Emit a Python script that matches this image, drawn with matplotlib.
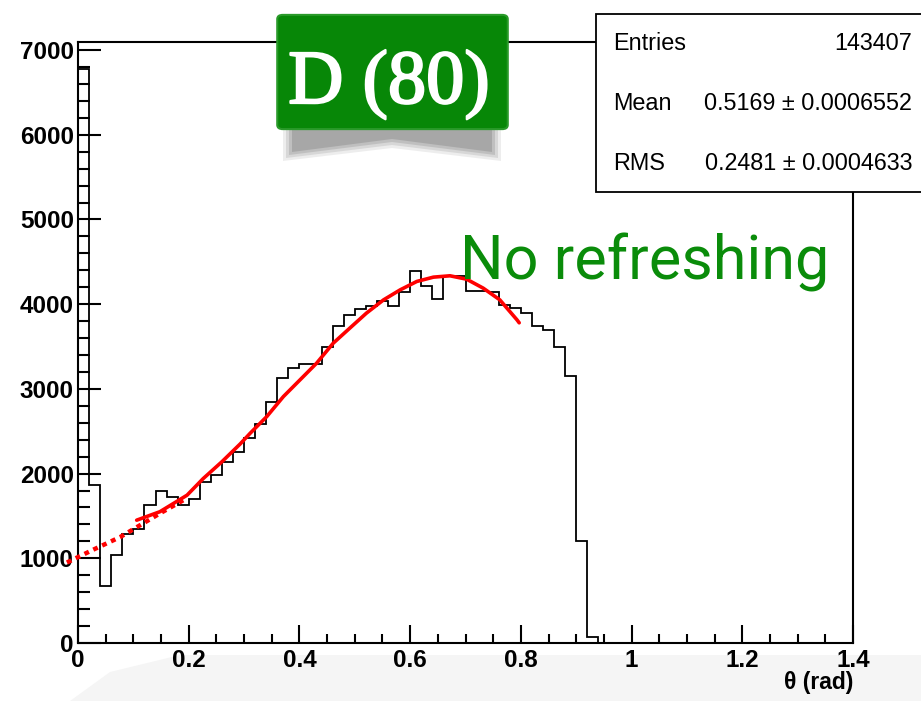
import numpy as np
import matplotlib
matplotlib.use('Agg')
import matplotlib.pyplot as plt
import matplotlib.patheffects as pe
from matplotlib.patches import Rectangle, FancyBboxPatch, Polygon

# histogram: theta (rad), 70 bins of 0.02 from 0 to 1.4
bin_edges = np.linspace(0, 1.4, 71)
counts = [6780, 1870, 670, 1040, 1290, 1345, 1625, 1795, 1720, 1630,
          1700, 1905, 1985, 2140, 2260, 2420, 2580, 2840, 3130, 3250,
          3290, 3290, 3490, 3740, 3870, 3940, 3980, 4040, 3980, 4140,
          4390, 4220, 4060, 4330, 4330, 4160, 4150, 4140, 3990, 3950,
          3900, 3740, 3700, 3490, 3150, 1200, 75] + [0] * 23

# hand drawn fit (solid) and its extrapolation (dotted)
fit_x = [0.106, 0.148, 0.197, 0.226, 0.260, 0.293, 0.311, 0.341, 0.371, 0.401,
         0.431, 0.461, 0.491, 0.521, 0.552, 0.582, 0.612, 0.642, 0.672, 0.702,
         0.732, 0.762, 0.793, 0.797]
fit_y = [1450, 1550, 1745, 1940, 2140, 2350, 2476, 2673, 2909, 3106,
         3303, 3539, 3717, 3894, 4051, 4169, 4268, 4319, 4335, 4295,
         4189, 4051, 3815, 3780]
ext_x = [-0.02, 0.027, 0.076, 0.148, 0.197]
ext_y = [950, 1100, 1250, 1530, 1710]

stats_names = ['Entries', 'Mean', 'RMS']
stats_values = ['143407', '0.5169 \u00b1 0.0006552', '0.2481 \u00b1 0.0004633']

W, H = 921, 701
def px(x):
    return x / W
def py(y):
    return 1 - y / H

fig = plt.figure(figsize=(9.21, 7.01), dpi=100)

# faint slide background at the bottom
fig.patches.append(Polygon([[px(70), 0], [px(110), py(672)], [px(180), py(655)],
                            [1, py(655)], [1, 0]], closed=True,
                           transform=fig.transFigure, facecolor='#f5f5f5',
                           edgecolor='none', zorder=-5))

ax = fig.add_axes([px(78), py(643), px(853) - px(78), py(42) - py(643)])
ax.set_facecolor('white')
ax.stairs(counts, bin_edges, color='black', linewidth=1.3, baseline=0)
ax.plot(ext_x, ext_y, color='red', linewidth=3.2, linestyle=(0, (1.1, 1.1)),
        clip_on=False, zorder=4)
ax.plot(fit_x, fit_y, color='red', linewidth=2.6, zorder=5,
        solid_capstyle='round', solid_joinstyle='round')

ax.set_xlim(0, 1.4)
ax.set_ylim(0, 7095)
ax.set_xticks(np.arange(0, 1.41, 0.2))
ax.set_xticks(np.arange(0, 1.41, 0.05), minor=True)
ax.set_yticks(np.arange(0, 7001, 1000))
ax.set_yticks(np.arange(0, 7001, 200), minor=True)
ax.set_xticklabels(['0', '0.2', '0.4', '0.6', '0.8', '1', '1.2', '1.4'])
ax.set_yticklabels([str(v) for v in range(0, 7001, 1000)])
ax.tick_params(axis='both', which='both', direction='in', width=1.5,
               top=False, right=False)
ax.tick_params(axis='x', which='major', length=13, pad=4)
ax.tick_params(axis='x', which='minor', length=6.5)
ax.tick_params(axis='y', which='major', length=16.5, pad=3)
ax.tick_params(axis='y', which='minor', length=8.5)
for lab in ax.get_xticklabels() + ax.get_yticklabels():
    lab.set_fontfamily('Liberation Sans')
    lab.set_fontweight('bold')
    lab.set_fontsize(17.5)
for s in ax.spines.values():
    s.set_linewidth(1.5)

fig.text(px(853), py(683), '\u03b8 (rad)', ha='right', va='center',
         fontsize=16.5, fontweight='bold', family='Liberation Sans')

# stats box
fig.patches.append(Rectangle((px(596), py(192)), 1 - px(596) + 0.01, py(14) - py(192),
                             transform=fig.transFigure, facecolor='white',
                             edgecolor='black', linewidth=1.3, zorder=3))
for i, (n, v) in enumerate(zip(stats_names, stats_values)):
    yy = py(43 + 60 * i)
    fig.text(px(613), yy, n, ha='left', va='center', fontsize=16.8,
             family='Liberation Sans', zorder=4)
    fig.text(px(912), yy, v, ha='right', va='center', fontsize=16.8,
             family='Liberation Sans', zorder=4)

# green label with its shadow
for k, a in enumerate([0.10, 0.14, 0.18, 0.22]):
    d = 3 * (3 - k)
    fig.patches.append(Polygon([[px(292 - d), py(128)], [px(492 + d), py(128)],
                                [px(492 + d), py(152 + d)], [px(392), py(139 + d)],
                                [px(292 - d), py(152 + d)]], closed=True,
                               transform=fig.transFigure, facecolor='#555555',
                               edgecolor='none', alpha=a, zorder=2))
fig.patches.append(FancyBboxPatch((px(280), py(127)), px(505) - px(280), py(17) - py(127),
                                  boxstyle='round,pad=0.003,rounding_size=0.006',
                                  transform=fig.transFigure, facecolor='#078707',
                                  edgecolor='#2a9a2a', linewidth=1.5, zorder=3))
fig.text(px(389), py(103), 'D (80)', ha='center', va='baseline', fontsize=55,
         color='white', family='Liberation Serif', zorder=4,
         path_effects=[pe.withStroke(linewidth=1.6, foreground='white')])

fig.text(px(460), py(280), 'No refreshing', ha='left', va='baseline', fontsize=44,
         color='#0a8c0a', family='Roboto', zorder=4)

fig.savefig('out.png', dpi=100)
